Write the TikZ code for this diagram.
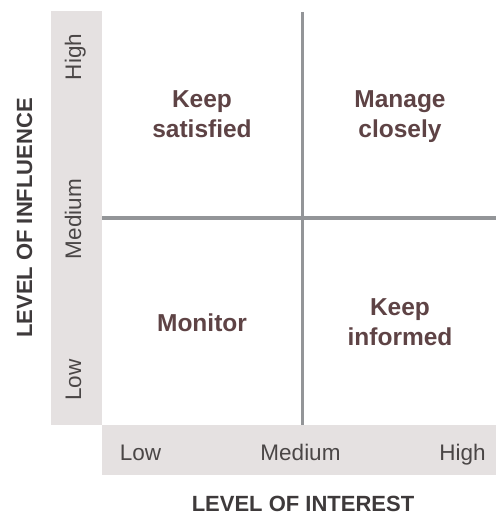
\documentclass[tikz,border=0pt]{standalone}
\usepackage{fontspec}
\setmainfont{Liberation Sans}
\definecolor{barfill}{HTML}{E5E1E1}
\definecolor{linegray}{HTML}{939598}
\definecolor{quadtext}{HTML}{5E4345}
\definecolor{axtext}{HTML}{4A4646}
\definecolor{titletext}{HTML}{3E3A3B}
\begin{document}
\begin{tikzpicture}[x=1pt,y=-1pt,
  quad/.style={text=quadtext, font=\fontsize{24.5}{30}\selectfont\bfseries, inner sep=0pt, anchor=base},
  axlabel/.style={text=axtext, font=\fontsize{22.5}{27}\selectfont, inner sep=0pt, anchor=base},
  axtitle/.style={text=titletext, font=\fontsize{22}{26}\selectfont\bfseries, inner sep=0pt, anchor=base},
  barbox/.style={fill=barfill, draw=none, inner sep=0pt, anchor=north west},
  divider/.style={draw=linegray, line width=3.5pt}]
\useasboundingbox (0,0) rectangle (496,516);
% axis bars
\node[barbox, minimum width=51pt, minimum height=414pt] (ybar) at (51,11) {};
\node[barbox, minimum width=394pt, minimum height=50pt] (xbar) at (102,425) {};
% dividers
\coordinate (vtop) at (302.5,12);
\coordinate (vbot) at (302.5,425);
\coordinate (hleft) at (102,218);
\coordinate (hright) at (496,218);
\draw[divider] (vtop) -- (vbot);
\draw[divider] (hleft) -- (hright);
% quadrant labels
\node[quad] (ks1) at (202,107) {Keep};
\node[quad] (ks2) at (202,137) {satisfied};
\node[quad] (mc1) at (400,107) {Manage};
\node[quad] (mc2) at (400,137) {closely};
\node[quad] (mon) at (202,331) {Monitor};
\node[quad] (ki1) at (400,315) {Keep};
\node[quad] (ki2) at (400,345) {informed};
% x axis labels
\node[axlabel] (xlow) at (140.5,460) {Low};
\node[axlabel] (xmed) at (300.5,460) {Medium};
\node[axlabel] (xhigh) at (462.5,460) {High};
% y axis labels
\node[axlabel, rotate=90] (yhigh) at (81,57) {High};
\node[axlabel, rotate=90] (ymed) at (81,219) {Medium};
\node[axlabel, rotate=90] (ylow) at (81,380) {Low};
% axis titles
\node[axtitle] (xtitle) at (303,511) {LEVEL OF INTEREST};
\node[axtitle, rotate=90] (ytitle) at (32,218) {LEVEL OF INFLUENCE};
\end{tikzpicture}
\end{document}
